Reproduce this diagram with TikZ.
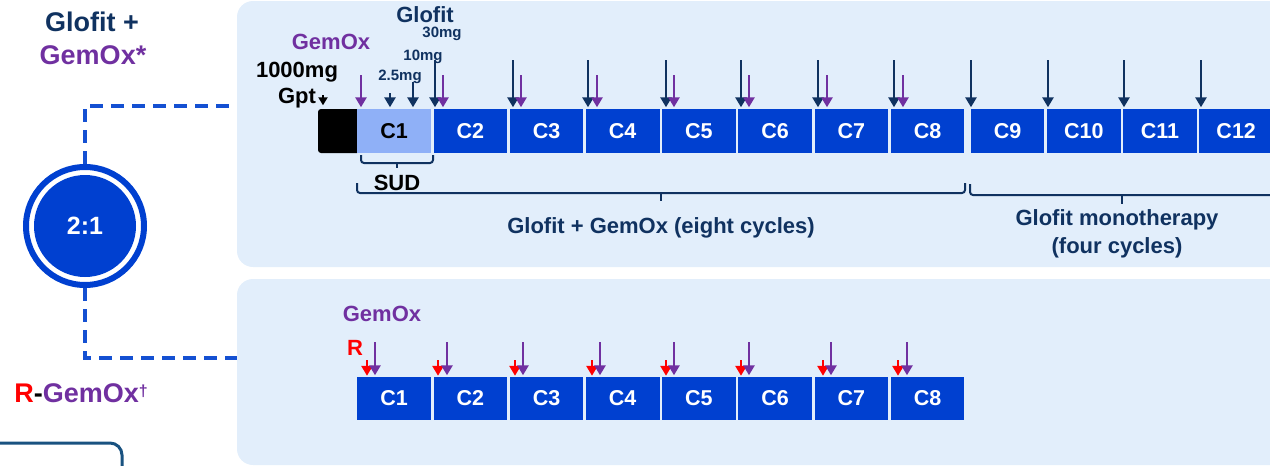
\documentclass[tikz,border=0pt]{standalone}
\usepackage{fontspec}
\setmainfont{Liberation Sans}
\usetikzlibrary{arrows.meta,calc}
\definecolor{panelbg}{RGB}{226,238,251}
\definecolor{cellblue}{RGB}{0,64,208}
\definecolor{cellpale}{RGB}{143,176,247}
\definecolor{navy}{RGB}{16,50,96}
\definecolor{gempurple}{RGB}{112,48,160}
\definecolor{rred}{RGB}{255,0,0}
\definecolor{dashblue}{RGB}{20,80,210}
\definecolor{boxline}{RGB}{25,82,128}
\newcommand{\sizept}[1]{\fontsize{#1}{#1}\selectfont\bfseries}

\begin{document}
\begin{tikzpicture}[x=1pt,y=-1pt,
  cell/.style={fill=cellblue,text=white,minimum width=73.6pt,minimum height=44pt,inner sep=0pt,font=\sizept{21.5}},
  lbl/.style={inner sep=0pt,font=\sizept{22}},
  dose/.style={inner sep=0pt,font=\sizept{15},text=navy},
  glarrow/.style={draw=navy,line width=2.7pt,-{Triangle[width=11pt,length=10pt]},shorten >=1.5pt},
  gmarrow/.style={draw=gempurple,line width=2.7pt,-{Triangle[width=11pt,length=10pt]},shorten >=1.5pt},
  rarrow/.style={draw=rred,line width=2.7pt,-{Triangle[width=11pt,length=10pt]},shorten >=1pt},
  brace/.style={draw=navy,line width=2pt,rounded corners=3pt},
  dashline/.style={draw=dashblue,line width=4pt,dash pattern=on 13pt off 8pt}]

\useasboundingbox (0,0) rectangle (1270,466);

% background panels for the two arms
\fill[panelbg,rounded corners=16pt] (237,1) rectangle (1300,267);
\fill[panelbg,rounded corners=16pt] (237,279) rectangle (1300,465);

% ---------- upper arm: pretreatment and twelve cycles ----------
\fill[black,rounded corners=3pt] (318,109) rectangle (360,153);
\node[inner sep=0pt,minimum width=0pt] (gptbox) at (338,109) {};
\node[cell,fill=cellpale,text=black] (t1) at (394.1,131) {C1};
\foreach \k in {2,...,8}{
  \pgfmathsetmacro\cx{356+(\k-1)*76.2+38.1}
  \node[cell] (t\k) at (\cx,131) {C\k};
}
\foreach \k in {9,...,12}{
  \pgfmathsetmacro\cx{969.5+(\k-9)*76.2+38.1}
  \node[cell] (t\k) at (\cx,131) {C\k};
}

% dose labels above C1
\node[lbl,text=navy] (glofit) at (425,15) {Glofit};
\node[dose] (d30) at (442,34) {30mg};
\node[dose] (d10) at (423,57) {10mg};
\node[dose] (d25) at (400,77) {2.5mg};
\node[lbl,text=gempurple] (gemtop) at (331,42) {GemOx};
\node[lbl,text=black] (obi) at (297,72) {1000mg};
\node[lbl,text=black] (gpt) at (297,98) {Gpt};

% administration arrows, upper arm
\draw[black,line width=2pt,-{Triangle[width=9pt,length=8pt]},shorten >=3pt] (323,95) coordinate (ga) -- (ga |- gptbox.north);
\draw[gmarrow] (361,75) coordinate (p1) -- (p1 |- t1.north);
\draw[glarrow] (390,93) coordinate (s25) -- (s25 |- t1.north);
\draw[glarrow] (413,82) coordinate (s10) -- (s10 |- t1.north);
\foreach \x/\c in {435/t2,513/t3,588/t4,666/t5,741/t6,818/t7,894/t8,971/t9,1048/t10,1124/t11,1201/t12}
  \draw[glarrow] (\x,60) coordinate (s) -- (s |- \c.north);
\foreach \x/\c in {443/t2,521/t3,597/t4,674/t5,749/t6,827/t7,903/t8}
  \draw[gmarrow] (\x,75) coordinate (s) -- (s |- \c.north);

% braces under the upper arm
\draw[brace] (361,155) -- (361,163) -- (433,163) -- (433,155);
\draw[brace] (397,163) -- (397,168);
\node[lbl,text=black] (sud) at (397,183) {SUD};
\draw[brace] (357,183) -- (357,193) -- (965,193) -- (965,183);
\draw[brace] (661,193) -- (661,201);
\node[lbl,text=navy] (combo) at (661,228) {Glofit + GemOx (eight cycles)};
\draw[brace] (970,184) -- (970,195) -- (1290,195);
\draw[brace] (1122,195) -- (1122,204);
\node[lbl,text=navy] (mono) at (1117,220) {Glofit monotherapy};
\node[lbl,text=navy] (mono2) at (1117,248) {(four cycles)};

% ---------- lower arm: eight cycles ----------
\foreach \k in {1,...,8}{
  \pgfmathsetmacro\cx{356+(\k-1)*76.2+38.1}
  \node[cell,minimum height=43pt] (b\k) at (\cx,398.5) {C\k};
}
\node[lbl,text=gempurple] (gembot) at (382,314) {GemOx};
\node[lbl,text=rred] (rlab) at (355,348) {R};
\foreach \x/\c in {367/b1,438/b2,515/b3,592/b4,666/b5,741/b6,823/b7,898/b8}
  \draw[rarrow] (\x,360) coordinate (s) -- (s |- \c.north);
\foreach \x/\c in {375/b1,447/b2,523/b3,600/b4,674/b5,749/b6,831/b7,907/b8}
  \draw[gmarrow] (\x,342) coordinate (s) -- (s |- \c.north);

% ---------- randomisation ----------
\node[lbl,text=navy,font=\sizept{27}] (armA) at (92,22) {Glofit +};
\node[lbl,text=gempurple,font=\sizept{27}] (armAb) at (93,55) {GemOx*};
\node[circle,fill=cellblue,minimum size=102pt,inner sep=0pt,text=white,font=\sizept{25}] (rand) at (85,226) {2:1};
\draw[cellblue,line width=6pt] (rand.center) circle[radius=59pt];
\node[circle,minimum size=124pt,inner sep=0pt] (randring) at (85,226) {};
\coordinate (topend) at (237,106);
\coordinate (botend) at (237,358);
\draw[dashline] (randring.north) -- (randring.north |- topend) -- (topend);
\draw[dashline] (randring.south) -- (randring.south |- botend) -- (botend);
\node[lbl,font=\sizept{27}] (armB) at (81,393) {\textcolor{rred}{R}\textcolor{black}{-}\textcolor{gempurple}{GemOx{\fontsize{16}{16}\selectfont\raisebox{6pt}{†}}}};

% frame at the lower left
\draw[boxline,line width=3pt,rounded corners=12pt] (-20,443) -- (122,443) -- (122,490);
\end{tikzpicture}
\end{document}
